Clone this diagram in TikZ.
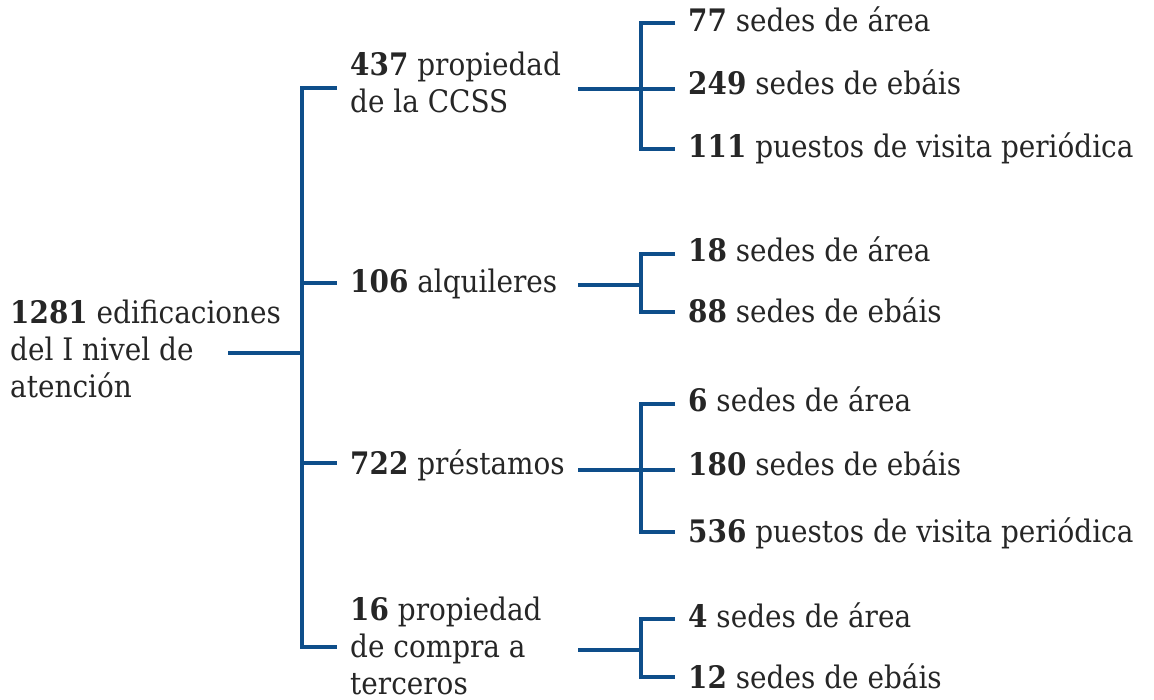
\documentclass[tikz,border=0pt]{standalone}
\usepackage{fontspec}
\setmainfont{DejaVu Serif}[FakeStretch=0.9]
\begin{document}
\begin{tikzpicture}[x=1pt,y=-1pt,
  txt/.style={anchor=base west,inner sep=0pt,align=left,text=textgray,
    font=\fontsize{31}{37}\selectfont},
  conn/.style={draw=linkblue,line width=4pt,line cap=butt,line join=miter}]
\definecolor{linkblue}{RGB}{14,78,138}
\definecolor{textgray}{RGB}{38,38,38}
\useasboundingbox (0,0) rectangle (1154,700);
% texts (base anchor of a multi-line node = baseline of its last line)
\node[txt] (root) at (10,398) {\textbf{1281} edificaciones\\del I nivel de\\atención};
\node[txt] (a) at (350,113) {\textbf{437} propiedad\\de la CCSS};
\node[txt] (b) at (350,293) {\textbf{106} alquileres};
\node[txt] (c) at (350,474) {\textbf{722} préstamos};
\node[txt] (d) at (350,694) {\textbf{16} propiedad\\de compra a\\terceros};
\node[txt] (a1) at (688,32) {\textbf{77} sedes de área};
\node[txt] (a2) at (688,95) {\textbf{249} sedes de ebáis};
\node[txt] (a3) at (688,158) {\textbf{111} puestos de visita periódica};
\node[txt] (b1) at (688,262) {\textbf{18} sedes de área};
\node[txt] (b2) at (688,323) {\textbf{88} sedes de ebáis};
\node[txt] (c1) at (688,411) {\textbf{6} sedes de área};
\node[txt] (c2) at (688,475) {\textbf{180} sedes de ebáis};
\node[txt] (c3) at (688,542) {\textbf{536} puestos de visita periódica};
\node[txt] (d1) at (688,627) {\textbf{4} sedes de área};
\node[txt] (d2) at (688,688) {\textbf{12} sedes de ebáis};
% connector points
\coordinate (r0) at (228,353);
\coordinate (t0) at (302,353);
\coordinate (tA) at (302,88);
\coordinate (tB) at (302,283);
\coordinate (tC) at (302,463);
\coordinate (tD) at (302,647);
\coordinate (eA) at (337,88);
\coordinate (eB) at (337,283);
\coordinate (eC) at (337,463);
\coordinate (eD) at (337,647);
\coordinate (sA) at (578,89);
\coordinate (sB) at (578,285);
\coordinate (sC) at (578,470);
\coordinate (sD) at (578,650);
\coordinate (vA) at (641,89);
\coordinate (vB) at (641,285);
\coordinate (vC) at (641,470);
\coordinate (vD) at (641,650);
\coordinate (pa1) at (675,23);
\coordinate (pa2) at (675,89);
\coordinate (pa3) at (675,149);
\coordinate (pb1) at (675,254);
\coordinate (pb2) at (675,312);
\coordinate (pc1) at (675,404);
\coordinate (pc2) at (675,470);
\coordinate (pc3) at (675,532);
\coordinate (pd1) at (675,619);
\coordinate (pd2) at (675,677);
% trunk
\draw[conn] (r0) -- (t0);
\draw[conn] (eA) -- (tA) -- (tD) -- (eD);
\draw[conn] (tB) -- (eB);
\draw[conn] (tC) -- (eC);
% sub brackets
\draw[conn] (sA) -- (vA);
\draw[conn] (pa1) -- (vA |- pa1) -- (vA |- pa3) -- (pa3);
\draw[conn] (vA) -- (pa2);
\draw[conn] (sB) -- (vB);
\draw[conn] (pb1) -- (vB |- pb1) -- (vB |- pb2) -- (pb2);
\draw[conn] (sC) -- (vC);
\draw[conn] (pc1) -- (vC |- pc1) -- (vC |- pc3) -- (pc3);
\draw[conn] (vC) -- (pc2);
\draw[conn] (sD) -- (vD);
\draw[conn] (pd1) -- (vD |- pd1) -- (vD |- pd2) -- (pd2);
\end{tikzpicture}
\end{document}
